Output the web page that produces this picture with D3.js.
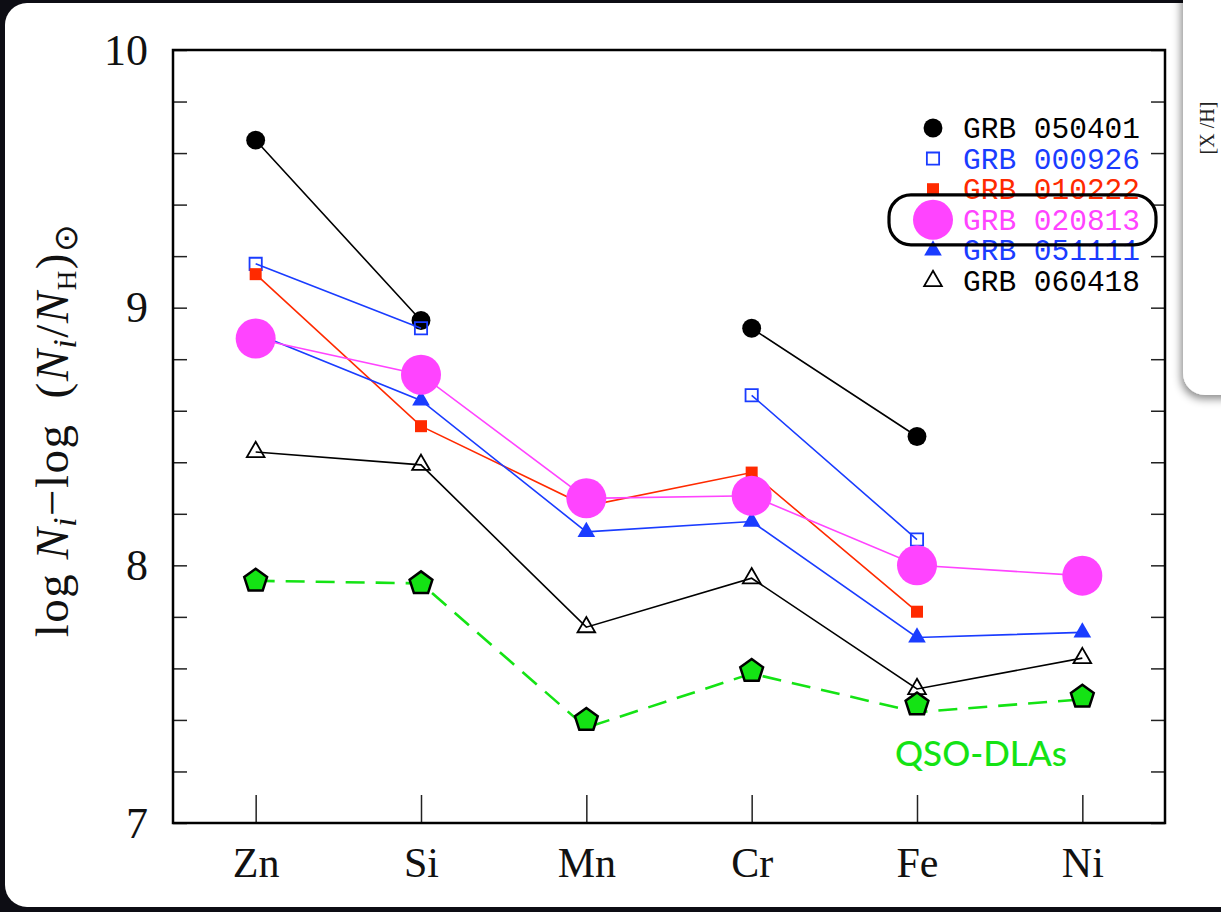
<!DOCTYPE html>
<html>
<head>
<meta charset="utf-8">
<script src="https://cdn.jsdelivr.net/npm/d3@7/dist/d3.min.js"></script>
<style>
  html, body { margin: 0; padding: 0; background: #0d0d14; }
  svg { display: block; }
</style>
</head>
<body>
<script>
// abundance pattern data
var elements = ["Zn", "Si", "Mn", "Cr", "Fe", "Ni"];

var grb050401 = [9.65, 8.95, null, 8.92, 8.50, null];
var grb000926 = [9.17, 8.92, null, 8.66, 8.10, null];
var grb010222 = [9.13, 8.54, 8.23, 8.36, 7.82, null];
var grb020813 = [8.88, 8.74, 8.26, 8.27, 8.00, 7.96];
var grb051111 = [8.90, 8.64, 8.13, 8.17, 7.72, 7.74];
var grb060418 = [8.44, 8.39, 7.76, 7.95, 7.52, 7.64];
var qsoDla    = [7.94, 7.93, 7.40, 7.59, 7.46, 7.49];
var qsoDlaLine = [7.94, 7.93, 7.37, 7.58, 7.43, 7.48];

var legendLabels = ["GRB 050401", "GRB 000926", "GRB 010222", "GRB 020813", "GRB 051111", "GRB 060418"];
var yTicks = [7, 7.2, 7.4, 7.6, 7.8, 8, 8.2, 8.4, 8.6, 8.8, 9, 9.2, 9.4, 9.6, 9.8, 10];

var W = 1221, H = 912;
var margin = { top: 50, right: 56, bottom: 89, left: 173 };

var blue = "#1a3cff", red = "#ff2a00", pink = "#ff44ff", green = "#14e314";

var svg = d3.select("body").append("svg")
  .attr("width", W)
  .attr("height", H);

var defs = svg.append("defs");
var f = defs.append("filter").attr("id", "shadow")
  .attr("x", "-50%").attr("y", "-20%").attr("width", "200%").attr("height", "140%");
f.append("feDropShadow").attr("dx", -2).attr("dy", 4).attr("stdDeviation", 4)
  .attr("flood-color", "#000").attr("flood-opacity", 0.45);

// the slide background + card
svg.append("rect").attr("width", W).attr("height", H).attr("fill", "#0d0d14");
svg.append("rect")
  .attr("x", 5).attr("y", 3)
  .attr("width", W + 20).attr("height", 904)
  .attr("rx", 22)
  .attr("fill", "#fff");

var x = d3.scalePoint()
  .domain(elements)
  .range([margin.left, W - margin.right])
  .padding(0.5);

var y = d3.scaleLinear()
  .domain([7, 10])
  .range([H - margin.bottom, margin.top]);

var g = svg.append("g");

// axes
var yAxis = g.append("g")
  .attr("transform", "translate(" + margin.left + ",0)")
  .call(d3.axisLeft(y)
    .tickValues(yTicks)
    .tickSize(-14)
    .tickPadding(25)
    .tickFormat(function(d) { return Number.isInteger(d) ? d : ""; }));

g.append("g")
  .attr("transform", "translate(" + (W - margin.right) + ",0)")
  .call(d3.axisRight(y).tickValues(yTicks).tickSize(-14).tickFormat(""));

var xAxis = g.append("g")
  .attr("transform", "translate(0," + (H - margin.bottom) + ")")
  .call(d3.axisBottom(x).tickSize(-28));

g.selectAll(".domain").remove();
g.selectAll(".tick line").attr("stroke", "#222").attr("stroke-width", 1.5);

yAxis.selectAll("text")
  .attr("font-family", "'Liberation Serif', serif")
  .attr("font-size", 44)
  .attr("fill", "#111");

xAxis.selectAll("text")
  .attr("font-family", "'Liberation Serif', serif")
  .attr("font-size", 42)
  .attr("fill", "#111")
  .attr("y", 54)
  .attr("dy", 0);

// frame
g.append("rect")
  .attr("x", margin.left).attr("y", margin.top)
  .attr("width", W - margin.left - margin.right)
  .attr("height", H - margin.top - margin.bottom)
  .attr("fill", "none")
  .attr("stroke", "#000")
  .attr("stroke-width", 2.5);

// y label
var yl = svg.append("text")
  .attr("transform", "translate(68,430) rotate(-90)")
  .attr("text-anchor", "middle")
  .attr("font-family", "'Liberation Serif', serif")
  .attr("font-size", 47)
  .attr("letter-spacing", 1.5)
  .attr("fill", "#111");
yl.append("tspan").text("log ");
yl.append("tspan").attr("font-style", "italic").text("N");
yl.append("tspan").attr("font-style", "italic").attr("font-size", 33).attr("dy", 8).text("i");
yl.append("tspan").attr("dy", -8).text("\u2212log\u2002(");
yl.append("tspan").attr("font-style", "italic").text("N");
yl.append("tspan").attr("font-style", "italic").attr("font-size", 33).attr("dy", 8).text("i");
yl.append("tspan").attr("dy", -8).text("/");
yl.append("tspan").attr("font-style", "italic").text("N");
yl.append("tspan").attr("font-size", 27).attr("dy", 8).text("H");
yl.append("tspan").attr("dy", -8).text(")");
yl.append("tspan").attr("font-size", 33).attr("dy", 9).text("\u2299");

// marker shapes
var pentagon = function(r) {
  var pts = d3.range(5).map(function(i) {
    var a = -Math.PI / 2 + i * 2 * Math.PI / 5;
    return [r * Math.cos(a), r * Math.sin(a)];
  });
  return "M" + pts.join("L") + "Z";
};
var sym = {
  circle: d3.symbol().type(d3.symbolCircle).size(280)(),
  bigCircle: d3.symbol().type(d3.symbolCircle).size(Math.PI * 20 * 20)(),
  square: d3.symbol().type(d3.symbolSquare).size(150)(),
  redSquare: d3.symbol().type(d3.symbolSquare).size(144)(),
  triangle: d3.symbol().type(d3.symbolTriangle).size(135)(),
  pentagon: pentagon(12)
};

var series = [
  { values: grb050401, color: "#000", shape: "circle", fill: "#000", legend: 0 },
  { values: grb000926, color: blue, shape: "square", fill: "none", legend: 1 },
  { values: grb010222, color: red, shape: "redSquare", fill: red, legend: 2 },
  { values: grb051111, color: blue, shape: "triangle", fill: blue, legend: 4 },
  { values: grb060418, color: "#000", shape: "triangle", fill: "none", legend: 5 },
  { values: qsoDla, line: qsoDlaLine, color: green, shape: "pentagon", fill: green, stroke: "#000", dashed: true },
  { values: grb020813, color: pink, shape: "bigCircle", fill: pink, legend: 3 }
];

var line = d3.line()
  .defined(function(d) { return d[1] != null; })
  .x(function(d) { return x(d[0]); })
  .y(function(d) { return y(d[1]); });

series.forEach(function(s) {
  var lv = s.line || s.values;
  g.append("path")
    .datum(elements.map(function(e, i) { return [e, lv[i]]; }))
    .attr("d", line)
    .attr("fill", "none")
    .attr("stroke", s.color)
    .attr("stroke-width", s.dashed ? 2.6 : 1.6)
    .attr("stroke-dasharray", s.dashed ? "19,11" : null);

  g.selectAll(null)
    .data(elements.map(function(e, i) { return [e, s.values[i]]; })
      .filter(function(d) { return d[1] != null; }))
    .enter().append("path")
    .attr("transform", function(d) { return "translate(" + x(d[0]) + "," + y(d[1]) + ")"; })
    .attr("d", sym[s.shape])
    .attr("fill", s.fill)
    .attr("stroke", s.stroke || (s.fill === "none" ? s.color : "none"))
    .attr("stroke-width", s.stroke ? 2.5 : 1.8);
});

// legend
var legY = d3.scaleLinear().domain([0, 5]).range([128, 281]);
var legendColors = ["#000", blue, red, pink, blue, "#000"];
var legendBySlot = [];
series.forEach(function(s) { if (s.legend != null) legendBySlot[s.legend] = s; });

var leg = svg.append("g");
legendBySlot.forEach(function(s, i) {
  leg.append("path")
    .attr("transform", "translate(933," + legY(i) + ")")
    .attr("d", sym[s.shape])
    .attr("fill", s.fill)
    .attr("stroke", s.fill === "none" ? s.color : "none")
    .attr("stroke-width", 1.8);
  leg.append("text")
    .attr("x", 963)
    .attr("y", legY(i) + 10)
    .attr("font-family", "'Liberation Mono', monospace")
    .attr("font-size", 29.5)
    .attr("fill", legendColors[i])
    .text(legendLabels[i]);
});

leg.append("rect")
  .attr("x", 889).attr("y", legY(3) - 25)
  .attr("width", 267).attr("height", 50)
  .attr("rx", 22)
  .attr("fill", "none")
  .attr("stroke", "#000")
  .attr("stroke-width", 3.2);

svg.append("text")
  .attr("x", 895)
  .attr("y", 766)
  .attr("font-family", "Lato, sans-serif")
  .attr("font-size", 35)
  .attr("font-weight", 500)
  .attr("fill", green)
  .text("QSO-DLAs");

// next slide's card peeking in at the top right
svg.append("rect")
  .attr("x", 1183).attr("y", -30)
  .attr("width", 80).attr("height", 425)
  .attr("rx", 22)
  .attr("fill", "#fff")
  .attr("filter", "url(#shadow)");
svg.append("text")
  .attr("transform", "translate(1214,128) rotate(-90)")
  .attr("text-anchor", "middle")
  .attr("font-family", "'Liberation Serif', serif")
  .attr("font-size", 20)
  .attr("fill", "#222")
  .text("[X /H]");
</script>
</body>
</html>
